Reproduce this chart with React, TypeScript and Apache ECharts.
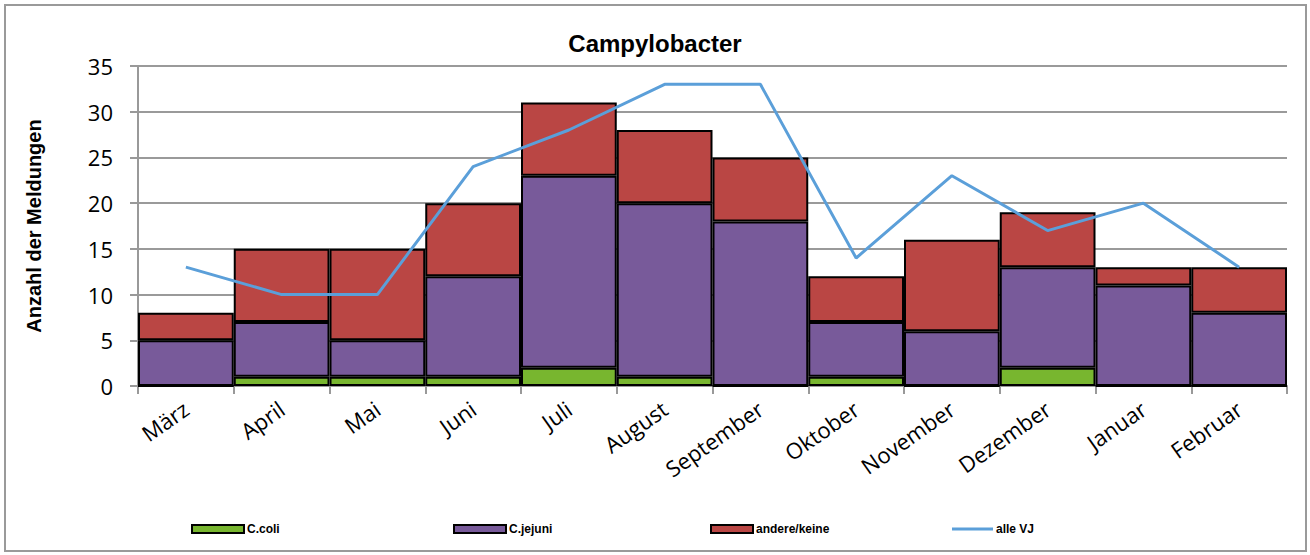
import React, { useEffect, useRef } from "react";
import * as echarts from "echarts";

const categories = ["März", "April", "Mai", "Juni", "Juli", "August", "September", "Oktober", "November", "Dezember", "Januar", "Februar"];
const cColi = [0, 1, 1, 1, 2, 1, 0, 1, 0, 2, 0, 0];
const cJejuni = [5, 6, 4, 11, 21, 19, 18, 6, 6, 11, 11, 8];
const andere = [3, 8, 10, 8, 8, 8, 7, 5, 10, 6, 2, 5];
const alleVJ = [13, 10, 10, 24, 28, 33, 33, 14, 23, 17, 20, 13];
const yTicks = { min: 0, max: 35, interval: 5 };

export default function App() {
  const ref = useRef<HTMLDivElement>(null);
  useEffect(() => {
    document.body.style.margin = "0";
    const chart = echarts.init(ref.current!, null, { renderer: "svg" });
    const barStyle = (color: string) => ({ color, borderColor: "#000", borderWidth: 2 });
    const legendBase = {
      bottom: 20,
      itemWidth: 52,
      itemHeight: 8,
      itemGap: 5,
      padding: 0,
      textStyle: { fontFamily: "Liberation Sans, Arial", fontWeight: "bold" as const, fontSize: 12, color: "#000", padding: [0, 0, 0, -2] },
    };
    chart.setOption({
      animation: false,
      backgroundColor: "#fff",
      title: {
        text: "Campylobacter",
        left: "center",
        top: 26,
        textStyle: { fontFamily: "Liberation Sans, Arial", fontWeight: "bold", fontSize: 24, color: "#000" },
      },
      graphic: [
        {
          type: "rect",
          shape: { x: 5, y: 5, width: 1301, height: 546 },
          style: { fill: "none", stroke: "#9a9a9a", lineWidth: 2 },
          z: -10,
        },
      ],
      legend: [
        { ...legendBase, left: 191, data: [{ name: "C.coli", icon: "rect" }] },
        { ...legendBase, left: 453, data: [{ name: "C.jejuni", icon: "rect" }] },
        { ...legendBase, left: 710, itemWidth: 42, data: [{ name: "andere/keine", icon: "rect" }] },
        { ...legendBase, left: 952, itemWidth: 41, itemHeight: 3, data: [{ name: "alle VJ", icon: "rect" }] },
      ],
      grid: { left: 138, right: 23, top: 66, bottom: 169 },
      xAxis: {
        type: "category",
        data: categories,
        axisLine: { lineStyle: { color: "#999", width: 2 } },
        axisTick: { show: true, length: 8, lineStyle: { color: "#999", width: 2 } },
        axisLabel: { rotate: 35, fontFamily: "Open Sans, sans-serif", fontSize: 22, color: "#000", margin: 20 },
      },
      yAxis: {
        type: "value",
        min: yTicks.min,
        max: yTicks.max,
        interval: yTicks.interval,
        name: "Anzahl der Meldungen",
        nameLocation: "middle",
        nameGap: 94,
        nameTextStyle: { fontFamily: "Liberation Sans, Arial", fontWeight: "bold", fontSize: 20, color: "#000" },
        axisLine: { show: true, lineStyle: { color: "#999", width: 2 } },
        axisTick: { show: true, length: 8, lineStyle: { color: "#999", width: 2 } },
        axisLabel: { fontFamily: "Open Sans, sans-serif", fontSize: 22, color: "#000", margin: 25 },
        splitLine: { lineStyle: { color: "#9a9a9a", width: 2 } },
      },
      series: [
        { name: "C.coli", type: "bar", stack: "a", barCategoryGap: 0, data: cColi, itemStyle: barStyle("#78B62F") },
        { name: "C.jejuni", type: "bar", stack: "a", barCategoryGap: 0, data: cJejuni, itemStyle: barStyle("#785A9A") },
        { name: "andere/keine", type: "bar", stack: "a", barCategoryGap: 0, data: andere, itemStyle: barStyle("#BA4644") },
        {
          name: "alle VJ",
          type: "line",
          data: alleVJ,
          symbol: "none",
          lineStyle: { color: "#5B9FD9", width: 3 },
          itemStyle: { color: "#5B9FD9" },
          z: 5,
        },
      ],
    });
    return () => chart.dispose();
  }, []);
  return <div ref={ref} style={{ width: 1310, height: 555 }} />;
}
